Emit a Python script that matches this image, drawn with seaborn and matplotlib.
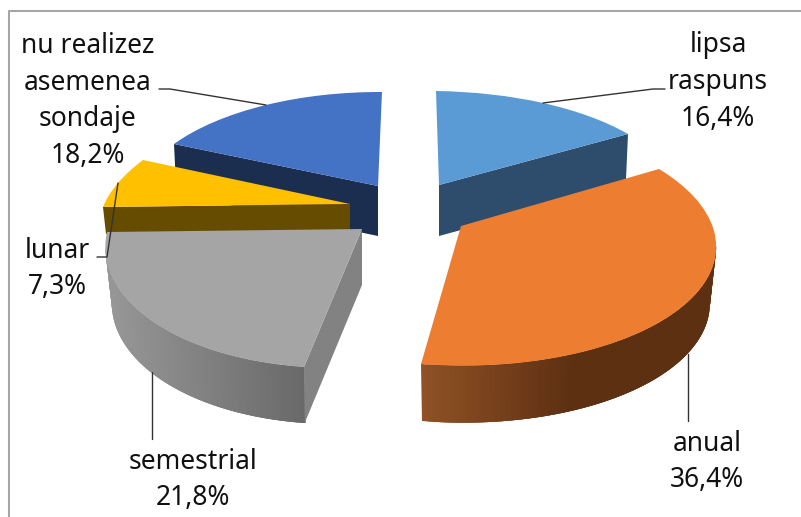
import numpy as np
import matplotlib
matplotlib.use("Agg")
import matplotlib.pyplot as plt
import matplotlib.transforms as mtransforms
import seaborn as sns

# datos del grafico
etiquetas = ["lipsa\nraspuns", "anual", "semestrial", "lunar", "nu realizez\nasemenea\nsondaje"]
valores = [16.4, 36.4, 21.8, 7.3, 18.2]
colores = ["#5b9bd5", "#ed7d31", "#a5a5a5", "#ffc000", "#4472c4"]
colores_corte = ["#2e4c6b", None, "#828282", "#664c00", "#1c2e50"]

# perspectiva de cada porcion, en pixeles: vertice, fin del arco (theta2), inicio (theta1), medio
esquinas = [
    [(439, 185), (436, 91), (628, 134), (543, 103)],
    [(461, 226), (659, 169), (421, 364), (692, 298)],
    [(362, 229), (304, 367), (107, 232), (152, 321)],
    [(350, 204), (103, 207), (143, 160), (118, 183)],
    [(378, 186), (174, 144), (382, 92), (266, 105)],
]
profundidad = [51, 57, 56, 27, 50]
orden = [4, 0, 3, 2, 1]
# que extremo del arco lleva la cara de corte
extremo_corte = [2, None, 1, 1, 1]

# pared exterior con degradado (izquierda, derecha)
degradados = {1: ("#8f5125", "#5e3012"), 2: ("#979797", "#676767")}

pos_etiquetas = [(718, 82), (707, 462), (193, 480), (57, 269), (88, 101)]
lineas_guia = [
    [(665, 89), (653, 89), (543, 103)],
    [(688, 354), (688, 421)],
    [(152, 372), (152, 439)],
    [(97, 257), (107, 257), (118, 183)],
    [(159, 89), (170, 89), (266, 105)],
]


class Perspectiva(mtransforms.Transform):
    input_dims = 2
    output_dims = 2
    is_separable = False
    has_inverse = False

    def __init__(self, H):
        super().__init__()
        self.H = H

    def transform_non_affine(self, values):
        values = np.asarray(values, dtype=float)
        p = np.column_stack([values, np.ones(len(values))]) @ self.H.T
        return p[:, :2] / p[:, 2:]


def homografia(origen, destino):
    A = []
    b = []
    for (x, y), (u, v) in zip(origen, destino):
        A.append([x, y, 1, 0, 0, 0, -u * x, -u * y])
        A.append([0, 0, 0, x, y, 1, -v * x, -v * y])
        b += [u, v]
    h = np.linalg.solve(np.array(A, dtype=float), np.array(b, dtype=float))
    return np.append(h, 1).reshape(3, 3)


sns.set_theme(style="white")
plt.rcParams["font.family"] = ["Noto Sans", "DejaVu Sans"]

fig = plt.figure(figsize=(8.01, 5.17), dpi=100)
ax = fig.add_axes([0, 0, 1, 1])

wedges, _ = ax.pie(valores, colors=sns.color_palette(colores), startangle=90,
                   counterclock=False, radius=1)

ax.set_aspect("auto")
ax.set_xlim(0, 801)
ax.set_ylim(517, 0)
ax.axis("off")

for z, i in enumerate(orden):
    w = wedges[i]
    t1, t2 = np.radians(w.theta1), np.radians(w.theta2)
    tm = (t1 + t2) / 2
    unit = [(0, 0), (np.cos(t2), np.sin(t2)), (np.cos(t1), np.sin(t1)), (np.cos(tm), np.sin(tm))]
    persp = Perspectiva(homografia(unit, esquinas[i]))
    d = profundidad[i]
    vx, vy = esquinas[i][0]

    w.set_transform(persp + ax.transData)
    w.set_linewidth(0)
    w.set_zorder(z * 2 + 2)

    # pared exterior, solo la parte visible del arco
    if i in degradados:
        tt = np.linspace(t1, t2, 120)
        arco = persp.transform_non_affine(np.column_stack([np.cos(tt), np.sin(tt)]))
        if i == 1:
            arco = arco[:np.argmax(arco[:, 0]) + 1]
        else:
            arco = arco[np.argmin(arco[:, 0]):]
        abajo = arco.copy()
        abajo[:, 0] = vx + (abajo[:, 0] - vx) * 0.975
        abajo[:, 1] += d
        c_izq, c_der = [np.array(matplotlib.colors.to_rgb(c)) for c in degradados[i]]
        x0, x1 = arco[:, 0].min(), arco[:, 0].max()
        idx = range(len(arco) - 1) if i == 1 else range(len(arco) - 2, -1, -1)
        for k in idx:
            f = (arco[k, 0] - x0) / (x1 - x0)
            if i == 1:
                f = min(f / 0.5, 1)
            col = c_izq + (c_der - c_izq) * f
            # cada tramo pisa al siguiente para que no queden rayas
            k2 = min(k + 3, len(arco) - 1)
            ax.fill(list(arco[k:k2 + 1, 0]) + list(abajo[k:k2 + 1, 0])[::-1],
                    list(arco[k:k2 + 1, 1]) + list(abajo[k:k2 + 1, 1])[::-1],
                    color=col, lw=0, zorder=z * 2 + 1)

    # cara de corte
    if extremo_corte[i] is not None:
        bx, by = esquinas[i][extremo_corte[i]]
        ax.fill([vx, bx, bx + (vx - bx) * 0.012, vx],
                [vy, by, by + d, vy + d],
                color=colores_corte[i], lw=0, zorder=z * 2 + 1)

for i, etq in enumerate(etiquetas):
    texto = etq + "\n" + f"{valores[i]:.1f}".replace(".", ",") + "%"
    ax.text(pos_etiquetas[i][0], pos_etiquetas[i][1], texto, ha="center", va="center",
            fontsize=19, fontweight="medium", linespacing=1.41, color="#111111", zorder=30)

for guia in lineas_guia:
    xs, ys = zip(*guia)
    ax.plot(xs, ys, color="#333333", lw=1, zorder=25)

# marco
ax.plot([801, 9, 9], [11, 11, 517], color="#a6a6a6", lw=1.5, zorder=40)

fig.savefig("out.png", dpi=100)
